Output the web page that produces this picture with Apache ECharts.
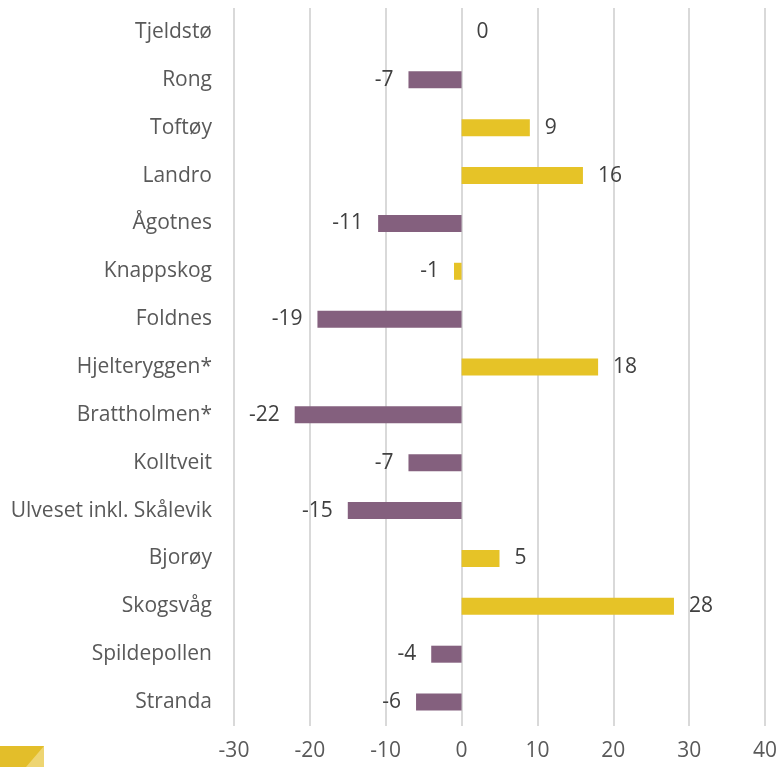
<!DOCTYPE html>
<html>
<head>
<meta charset="utf-8">
<script src="https://cdn.jsdelivr.net/npm/echarts@6/dist/echarts.min.js"></script>
<style>
  html, body { margin: 0; padding: 0; background: #fff; }
  #main { width: 780px; height: 767px; }
</style>
</head>
<body>
<div id="main"></div>
<script>
// stedene, ovenfra og ned
const places = ['Tjeldstø', 'Rong', 'Toftøy', 'Landro', 'Ågotnes', 'Knappskog', 'Foldnes',
  'Hjelteryggen*', 'Brattholmen*', 'Kolltveit', 'Ulveset inkl. Skålevik', 'Bjorøy',
  'Skogsvåg', 'Spildepollen', 'Stranda'];
const change = [0, -7, 9, 16, -11, -1, -19, 18, -22, -7, -15, 5, 28, -4, -6];
// steder som vises i gult
const yellowPlaces = ['Tjeldstø', 'Toftøy', 'Landro', 'Knappskog', 'Hjelteryggen*', 'Bjorøy', 'Skogsvåg'];
const xTicks = [-30, -20, -10, 0, 10, 20, 30, 40];

const YELLOW = '#E6C327';
const PURPLE = '#84607E';
const font = 'Open Sans';

const chart = echarts.init(document.getElementById('main'));

// category axis runs bottom-up, so reverse
const cats = places.slice().reverse();
const vals = change.slice().reverse().map(function (v, i) {
  const yellow = yellowPlaces.indexOf(cats[i]) >= 0;
  return {
    value: v,
    itemStyle: { color: yellow ? YELLOW : PURPLE },
    label: { position: v < 0 ? 'left' : 'right' }
  };
});

chart.setOption({
  backgroundColor: '#ffffff',
  animation: false,
  grid: { left: 234, right: 14, top: 8, bottom: 41 },
  xAxis: {
    type: 'value',
    min: xTicks[0],
    max: xTicks[xTicks.length - 1],
    interval: 10,
    axisLine: { show: false },
    axisTick: { show: false },
    splitLine: { lineStyle: { color: '#d9d9d9', width: 2 } },
    axisLabel: { color: '#595959', fontFamily: font, fontSize: 21, margin: 15 }
  },
  yAxis: {
    type: 'category',
    data: cats,
    axisLine: { show: false, onZero: false },
    axisTick: { show: false },
    axisLabel: { color: '#595959', fontFamily: font, fontSize: 21, margin: 22 }
  },
  series: [{
    type: 'bar',
    data: vals,
    barWidth: 17,
    label: {
      show: true,
      color: '#404040',
      fontFamily: font,
      fontSize: 21,
      distance: 15
    }
  }],
  graphic: [
    { type: 'rect', shape: { x: 0, y: 746, width: 44, height: 21 }, style: { fill: '#E3BE2A' } },
    { type: 'polygon', shape: { points: [[44, 746], [44, 767], [26, 767]] }, style: { fill: '#EED572' } }
  ]
});
</script>
</body>
</html>
